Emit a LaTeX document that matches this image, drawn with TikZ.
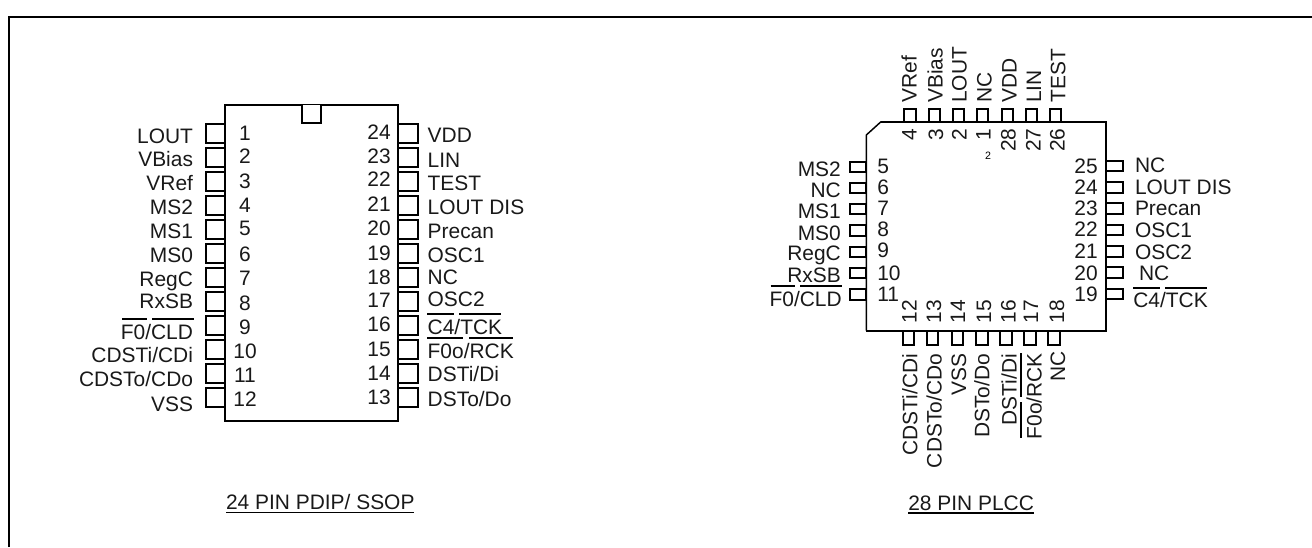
\documentclass[tikz,border=0pt]{standalone}
\usepackage{fontspec}
\setmainfont{Liberation Sans}
\tikzset{
  pinline/.style={draw=black,line width=1.5pt,line join=miter,fill=white},
  body/.style={draw=black,line width=1.6pt,line join=miter,fill=white},
  barline/.style={draw=black,line width=1.3pt},
  lab/.style={inner sep=0pt,outer sep=0pt,text=black!90,font=\fontsize{15.7}{15.7}\selectfont},
  tiny2/.style={inner sep=0pt,outer sep=0pt,text=black,font=\fontsize{8}{8}\selectfont},
}
\begin{document}
\begin{tikzpicture}[x=0.75pt,y=-0.75pt]
\useasboundingbox (0,0) rectangle (1312,547);
% frame
\draw[black,line width=1.6pt] (9,547) -- (9,17) -- (1312,17);

% ---------- 24 PIN package
\foreach \t/\b in {123.7/142.7,147.7/166.7,171.8/190.8,195.8/214.8,219.8/238.8,243.9/262.9,267.9/286.9,291.9/310.9,316/335,340/359,364/383,388/406.7}{
  \draw[pinline] (206,\t) rectangle (225,\b);
  \draw[pinline] (398.3,\t) rectangle (418.3,\b);
}
\draw[body] (225,105) rectangle (398.3,420.7);
\draw[body] (301.7,105) -- (301.7,123) -- (321,123) -- (321,105);

\node[lab,anchor=base east] (da1) at (193,143.3) {LOUT};
\node[lab,anchor=base east] (da2) at (193,166.7) {VBias};
\node[lab,anchor=base east] (da3) at (193,190.7) {VRef};
\node[lab,anchor=base east] (da4) at (193,214.7) {MS2};
\node[lab,anchor=base east] (da5) at (193,238.7) {MS1};
\node[lab,anchor=base east] (da6) at (193,262.3) {MS0};
\node[lab,anchor=base east] (da7) at (193,286.3) {RegC};
\node[lab,anchor=base east] (da8) at (193,308.3) {RxSB};
\node[lab,anchor=base east] (da9) at (193,339) {F0/CLD};
\node[lab,anchor=base east] (da10) at (193,362.7) {CDSTi/CDi};
\node[lab,anchor=base east] (da11) at (193,386.7) {CDSTo/CDo};
\node[lab,anchor=base east] (da12) at (193,411) {VSS};
\draw[barline] (122.3,319) -- (147.3,319) (152,319) -- (194,319);

\foreach \n/\y in {1/140,2/163,3/188.7,4/212.7,5/235,6/261,7/285,8/310,9/334,10/358,11/382,12/406}{
  \node[lab,anchor=base] (dn\n) at (245,\y) {\n};
}
\foreach \n/\y in {24/139,23/163,22/186.7,21/211,20/235.7,19/260,18/284,17/307.7,16/331.7,15/356,14/380,13/404}{
  \node[lab,anchor=base east] (dn\n) at (390.7,\y) {\n};
}
\node[lab,anchor=base west] (db24) at (427.7,142.7) {VDD};
\node[lab,anchor=base west] (db23) at (427.7,167.3) {LIN};
\node[lab,anchor=base west] (db22) at (427.7,190) {TEST};
\node[lab,anchor=base west] (db21) at (427.7,214) {LOUT DIS};
\node[lab,anchor=base west] (db20) at (427.7,238) {Precan};
\node[lab,anchor=base west] (db19) at (427.7,262) {OSC1};
\node[lab,anchor=base west] (db18) at (427.7,284) {NC};
\node[lab,anchor=base west] (db17) at (427.7,306.7) {OSC2};
\node[lab,anchor=base west] (db16) at (427.7,334) {C4/TCK};
\node[lab,anchor=base west] (db15) at (427.7,358) {F0o/RCK};
\node[lab,anchor=base west] (db14) at (427.7,381.7) {DSTi/Di};
\node[lab,anchor=base west] (db13) at (427.7,406) {DSTo/Do};
\draw[barline] (427.3,313.7) -- (454,313.7) (459,313.7) -- (501,313.7);
\draw[barline] (427.3,338) -- (463,338) (469,338) -- (512.7,338);

\node[lab,anchor=base west] (cap1) at (226,509.3) {24 PIN PDIP/ SSOP};
\draw[barline] ([yshift=-2.3pt]cap1.base west) -- ([yshift=-2.3pt]cap1.base east);

% ---------- 28 PIN package
\foreach \x in {904.3,929,952.7,976.7,1001.7,1025.7,1050}{
  \draw[pinline] (\x,108.7) rectangle ({\x+11.3},121.7);
}
\foreach \x in {902.7,926.7,951.7,976,1000,1024.3,1048.3}{
  \draw[pinline] (\x,330.7) rectangle ({\x+11.5},345.3);
}
\foreach \y in {161.7,182.7,203.7,225.3,246.7,268,289.3}{
  \draw[pinline] (850,\y) rectangle (866.3,{\y+10.4});
}
\foreach \y in {160.7,182,203.3,224.7,246,267.3,288.7}{
  \draw[pinline] (1106,\y) rectangle (1122.7,{\y+10.5});
}
\draw[body] (881,121.7) -- (1106,121.7) -- (1106,330.7) -- (866.3,330.7);
\draw[draw=black,line width=1.1pt] (866.3,330.7) -- (866.3,135) -- (881,121.7);

\foreach \x/\s [count=\c] in {916.7/VRef,942.7/VBias,966.7/LOUT,991.7/NC,1016.7/VDD,1041/LIN,1065.3/TEST}{
  \node[lab,rotate=90,anchor=base west] (pt\c) at (\x,102.7) {\s};
}
\foreach \x/\n in {916.7/4,943/3,966.7/2,990.7/1,1015.7/28,1040.7/27,1064.7/26}{
  \node[lab,rotate=90,anchor=base east] (pn\n) at (\x,128.5) {\n};
}
\node[tiny2,anchor=center] (ptiny) at (988,156) {2};

\foreach \x/\n in {916.7/12,941/13,965/14,991/15,1015.7/16,1038/17,1064/18}{
  \node[lab,rotate=90,anchor=base west] (pn\n) at (\x,323) {\n};
}
\node[lab,rotate=90,anchor=base east] (pb12) at (917.3,354) {CDSTi/CDi};
\node[lab,rotate=90,anchor=base east] (pb13) at (941.7,354) {CDSTo/CDo};
\node[lab,rotate=90,anchor=base east] (pb14) at (966,354) {VSS};
\node[lab,rotate=90,anchor=base east] (pb15) at (989.3,354) {DSTo/Do};
\node[lab,rotate=90,anchor=base east] (pb16) at (1016.7,354) {DSTi/Di};
\node[lab,rotate=90,anchor=base east] (pb17) at (1041.7,353.3) {F0o/RCK};
\node[lab,rotate=90,anchor=base east] (pb18) at (1065,351.7) {NC};
\draw[barline] (1020.7,353.3) -- (1020.7,396.7) (1020.7,402.3) -- (1020.7,437.7);

\node[lab,anchor=base east] (pl5) at (840.8,176.7) {MS2};
\node[lab,anchor=base east] (pl6) at (840.8,197.7) {NC};
\node[lab,anchor=base east] (pl7) at (840.8,218.7) {MS1};
\node[lab,anchor=base east] (pl8) at (840.8,240) {MS0};
\node[lab,anchor=base east] (pl9) at (840.8,260.7) {RegC};
\node[lab,anchor=base east] (pl10) at (840.8,282.7) {RxSB};
\node[lab,anchor=base east] (pl11) at (841.7,306) {F0/CLD};
\draw[barline] (770.7,286) -- (794.7,286) (800,286) -- (841.7,286);

\foreach \n/\y in {5/173.3,6/194,7/215.3,8/236.7,9/257.7,10/280,11/301}{
  \node[lab,anchor=base west] (pn\n) at (877.3,\y) {\n};
}
\foreach \n/\y in {25/173.3,24/194,23/215.3,22/236.7,21/258.3,20/280,19/301}{
  \node[lab,anchor=base east] (pn\n) at (1097.7,\y) {\n};
}
\node[lab,anchor=base west] (pr25) at (1135,172) {NC};
\node[lab,anchor=base west] (pr24) at (1135,194) {LOUT DIS};
\node[lab,anchor=base west] (pr23) at (1135,215.7) {Precan};
\node[lab,anchor=base west] (pr22) at (1135,237.7) {OSC1};
\node[lab,anchor=base west] (pr21) at (1135,259) {OSC2};
\node[lab,anchor=base west] (pr20) at (1139,280.7) {NC};
\node[lab,anchor=base west] (pr19) at (1133.3,307.3) {C4/TCK};
\draw[barline] (1133.3,288.3) -- (1160,288.3) (1165,288.3) -- (1206.7,288.3);

\node[lab,anchor=base west] (cap2) at (908.3,510) {28 PIN PLCC};
\draw[barline] ([yshift=-2.1pt]cap2.base west) -- ([yshift=-2.1pt]cap2.base east);
\end{tikzpicture}
\end{document}
